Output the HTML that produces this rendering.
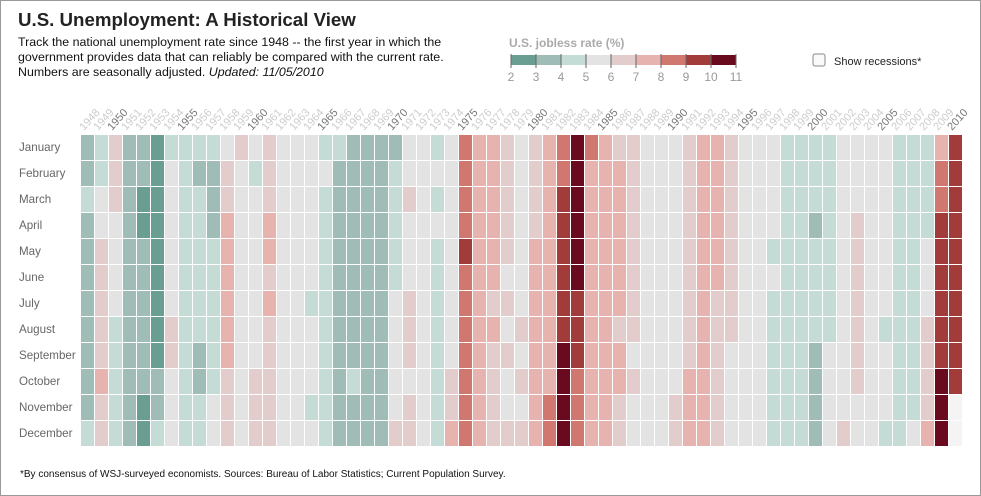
<!DOCTYPE html>
<html><head><meta charset="utf-8"><style>
body{margin:0;background:#fff;font-family:"Liberation Sans",Arial,sans-serif}
#wrap{position:relative;width:979px;height:494px;border:1px solid #999;overflow:hidden}
</style></head><body>
<div id="wrap">
<svg id="svg" width="979" height="494" xmlns="http://www.w3.org/2000/svg" font-family="Liberation Sans, Arial, sans-serif">
<text x="17" y="25" font-size="18.7" font-weight="bold" fill="#222">U.S. Unemployment: A Historical View</text>
<text x="17" y="45" font-size="12.4" fill="#111">Track the national unemployment rate since 1948 -- the first year in which the</text>
<text x="17" y="60" font-size="12.4" fill="#111">government provides data that can reliably be compared with the current rate.</text>
<text x="17" y="75" font-size="12.4" fill="#111">Numbers are seasonally adjusted. <tspan font-style="italic">Updated: 11/05/2010</tspan></text>
<text x="508" y="46" font-size="12" font-weight="bold" fill="#aaa">U.S. jobless rate (%)</text>
<g id="legend"></g>
<rect x="812" y="53" width="12" height="12" rx="2" fill="#fafafa" stroke="#888"/>
<text x="833" y="64" font-size="11" fill="#222">Show recessions*</text>
<g id="years"></g>
<g id="months"></g>
<g id="cells"></g>
<text x="19" y="476" font-size="10" fill="#111">*By consensus of WSJ-surveyed economists. Sources: Bureau of Labor Statistics; Current Population Survey.</text>
</svg></div>
<script>
const months=["January","February","March","April","May","June","July","August","September","October","November","December"];
const startYear=1948;
const binEdges=[2,3,4,5,6,7,8,9,10,11];
const binColors=["#6a9e92","#9fbdb6","#c5dbd5","#e3e3e3","#e3cdcc","#e6b3ae","#d0786f","#a13c3b","#6a0a1f"];
const rates=[
[3.4,3.8,4.0,3.9,3.5,3.6,3.6,3.9,3.8,3.7,3.8,4.0],
[4.3,4.7,5.0,5.3,6.1,6.2,6.7,6.8,6.6,7.9,6.4,6.6],
[6.5,6.4,6.3,5.8,5.5,5.4,5.0,4.5,4.4,4.2,4.2,4.3],
[3.7,3.4,3.4,3.1,3.0,3.2,3.1,3.1,3.3,3.5,3.5,3.1],
[3.2,3.1,2.9,2.9,3.0,3.0,3.2,3.4,3.1,3.0,2.8,2.7],
[2.9,2.6,2.6,2.7,2.5,2.5,2.6,2.7,2.9,3.1,3.5,4.5],
[4.9,5.2,5.7,5.9,5.9,5.6,5.8,6.0,6.1,5.7,5.3,5.0],
[4.9,4.7,4.6,4.7,4.3,4.2,4.0,4.2,4.1,4.3,4.2,4.2],
[4.0,3.9,4.2,4.0,4.3,4.3,4.4,4.1,3.9,3.9,4.3,4.2],
[4.2,3.9,3.7,3.9,4.1,4.3,4.2,4.1,4.4,4.5,5.1,5.2],
[5.8,6.4,6.7,7.4,7.4,7.3,7.5,7.4,7.1,6.7,6.2,6.2],
[6.0,5.9,5.6,5.2,5.1,5.0,5.1,5.2,5.5,5.7,5.8,5.3],
[5.2,4.8,5.4,5.2,5.1,5.4,5.5,5.6,5.5,6.1,6.1,6.6],
[6.6,6.9,6.9,7.0,7.1,6.9,7.0,6.6,6.7,6.5,6.1,6.0],
[5.8,5.5,5.6,5.6,5.5,5.5,5.4,5.7,5.6,5.4,5.7,5.5],
[5.7,5.9,5.7,5.7,5.9,5.6,5.6,5.4,5.5,5.5,5.7,5.5],
[5.6,5.4,5.4,5.3,5.1,5.2,4.9,5.0,5.1,5.1,4.8,5.0],
[4.9,5.1,4.7,4.8,4.6,4.6,4.4,4.4,4.3,4.2,4.1,4.0],
[4.0,3.8,3.8,3.8,3.9,3.8,3.8,3.8,3.7,3.7,3.6,3.8],
[3.9,3.8,3.8,3.8,3.8,3.9,3.8,3.8,3.8,4.0,3.9,3.8],
[3.7,3.8,3.7,3.5,3.5,3.7,3.7,3.5,3.4,3.4,3.4,3.4],
[3.4,3.4,3.4,3.4,3.4,3.5,3.5,3.5,3.7,3.7,3.5,3.5],
[3.9,4.2,4.4,4.6,4.8,4.9,5.0,5.1,5.4,5.5,5.9,6.1],
[5.9,5.9,6.0,5.9,5.9,5.9,6.0,6.1,6.0,5.8,6.0,6.0],
[5.8,5.7,5.8,5.7,5.7,5.7,5.6,5.6,5.5,5.6,5.3,5.2],
[4.9,5.0,4.9,5.0,4.9,4.9,4.8,4.8,4.8,4.6,4.8,4.9],
[5.1,5.2,5.1,5.1,5.1,5.4,5.5,5.5,5.9,6.0,6.6,7.2],
[8.1,8.1,8.6,8.8,9.0,8.8,8.6,8.4,8.4,8.4,8.3,8.2],
[7.9,7.7,7.6,7.7,7.4,7.6,7.8,7.8,7.6,7.7,7.8,7.8],
[7.5,7.6,7.4,7.2,7.0,7.2,6.9,7.0,6.8,6.8,6.8,6.4],
[6.4,6.3,6.3,6.1,6.0,5.9,6.2,5.9,6.0,5.8,5.9,6.0],
[5.9,5.9,5.8,5.8,5.6,5.7,5.7,6.0,5.9,6.0,5.9,6.0],
[6.3,6.3,6.3,6.9,7.5,7.6,7.8,7.7,7.5,7.5,7.5,7.2],
[7.5,7.4,7.4,7.2,7.5,7.5,7.2,7.4,7.6,7.9,8.3,8.5],
[8.6,8.9,9.0,9.3,9.4,9.6,9.8,9.8,10.1,10.4,10.8,10.8],
[10.4,10.4,10.3,10.2,10.1,10.1,9.4,9.5,9.2,8.8,8.5,8.3],
[8.0,7.8,7.8,7.7,7.4,7.2,7.5,7.5,7.3,7.4,7.2,7.3],
[7.3,7.2,7.2,7.3,7.2,7.4,7.4,7.1,7.1,7.1,7.0,7.0],
[6.7,7.2,7.2,7.1,7.2,7.2,7.0,6.9,7.0,7.0,6.9,6.6],
[6.6,6.6,6.6,6.3,6.3,6.2,6.1,6.0,5.9,6.0,5.8,5.7],
[5.7,5.7,5.7,5.4,5.6,5.4,5.4,5.6,5.4,5.4,5.3,5.3],
[5.4,5.2,5.0,5.2,5.2,5.3,5.2,5.2,5.3,5.3,5.4,5.4],
[5.4,5.3,5.2,5.4,5.4,5.2,5.5,5.7,5.9,5.9,6.2,6.3],
[6.4,6.6,6.8,6.7,6.9,6.9,6.8,6.9,6.9,7.0,7.0,7.3],
[7.3,7.4,7.4,7.4,7.6,7.8,7.7,7.6,7.6,7.3,7.4,7.4],
[7.3,7.1,7.0,7.1,7.1,7.0,6.9,6.8,6.7,6.8,6.6,6.5],
[6.6,6.6,6.5,6.4,6.1,6.1,6.1,6.0,5.9,5.8,5.6,5.5],
[5.6,5.4,5.4,5.8,5.6,5.6,5.7,5.7,5.6,5.5,5.6,5.6],
[5.6,5.5,5.5,5.6,5.6,5.3,5.5,5.1,5.2,5.2,5.4,5.4],
[5.3,5.2,5.2,5.1,4.9,5.0,4.9,4.8,4.9,4.7,4.6,4.7],
[4.6,4.6,4.7,4.3,4.4,4.5,4.5,4.5,4.6,4.5,4.4,4.4],
[4.3,4.4,4.2,4.3,4.2,4.3,4.3,4.2,4.2,4.1,4.1,4.0],
[4.0,4.1,4.0,3.8,4.0,4.0,4.0,4.1,3.9,3.9,3.9,3.9],
[4.2,4.2,4.3,4.4,4.3,4.5,4.6,4.9,5.0,5.3,5.5,5.7],
[5.7,5.7,5.7,5.9,5.8,5.8,5.8,5.7,5.7,5.7,5.9,6.0],
[5.8,5.9,5.9,6.0,6.1,6.3,6.2,6.1,6.1,6.0,5.8,5.7],
[5.7,5.6,5.8,5.6,5.6,5.6,5.5,5.4,5.4,5.5,5.4,5.4],
[5.3,5.4,5.2,5.2,5.1,5.0,5.0,4.9,5.0,5.0,5.0,4.9],
[4.7,4.8,4.7,4.7,4.6,4.6,4.7,4.7,4.5,4.4,4.5,4.4],
[4.6,4.5,4.4,4.5,4.4,4.6,4.7,4.6,4.7,4.7,4.7,5.0],
[4.9,4.8,4.9,4.9,5.5,5.6,5.8,6.2,6.2,6.6,6.9,7.4],
[7.8,8.3,8.7,9.0,9.4,9.5,9.5,9.6,9.8,10.1,10.0,10.0],
[9.7,9.7,9.7,9.8,9.6,9.5,9.5,9.6,9.6,9.6,null,null]
];
const NS="http://www.w3.org/2000/svg";
const gx0=80,colW=14,gy0=134,rowH=26;
const xPos=i=>gx0+i*colW, yPos=j=>gy0+j*rowH;
function colorOf(v){if(v==null)return"#f4f4f4";for(let k=0;k<binColors.length;k++){if(v<binEdges[k+1])return binColors[k];}return binColors[binColors.length-1];}
function mk(tag,attrs,parent){const e=document.createElementNS(NS,tag);for(const k in attrs)e.setAttribute(k,attrs[k]);parent.appendChild(e);return e;}
const cells=document.getElementById('cells');
rates.forEach((yr,i)=>{yr.forEach((v,j)=>{
 const r=mk('rect',{x:xPos(i),y:yPos(j),width:colW-1,height:rowH-1,fill:colorOf(v)},cells);
 
 
});});
const yg=document.getElementById('years');
rates.forEach((yr,i)=>{const y=startYear+i;const cx=xPos(i)+3;
 const t=mk('text',{x:cx,y:130,'font-size':11,fill:(y%5===0)?'#777':'#ccc',transform:'rotate(-48 '+cx+' 130)'},yg);
 t.textContent=y;
 
 
});
const mg=document.getElementById('months');
months.forEach((m,j)=>{const t=mk('text',{x:18,y:yPos(j)+16,'font-size':11.6,fill:'#666'},mg);t.textContent=m;
 
 
});
const lg=document.getElementById('legend');
const lx0=510,lw=25;
binColors.forEach((c,k)=>{const r=mk('rect',{x:lx0+k*lw,y:54,width:lw,height:10,fill:c},lg);
 
 });
binEdges.forEach((e,k)=>{const x=lx0+k*lw;
 const l=mk('line',{x1:x,x2:x,y1:53,y2:67,stroke:'#666','stroke-width':1},lg);
 
 
 const t=mk('text',{x:x,y:80,'font-size':12,fill:'#999','text-anchor':'middle'},lg);t.textContent=e;
 
 });
</script>
</body></html>
